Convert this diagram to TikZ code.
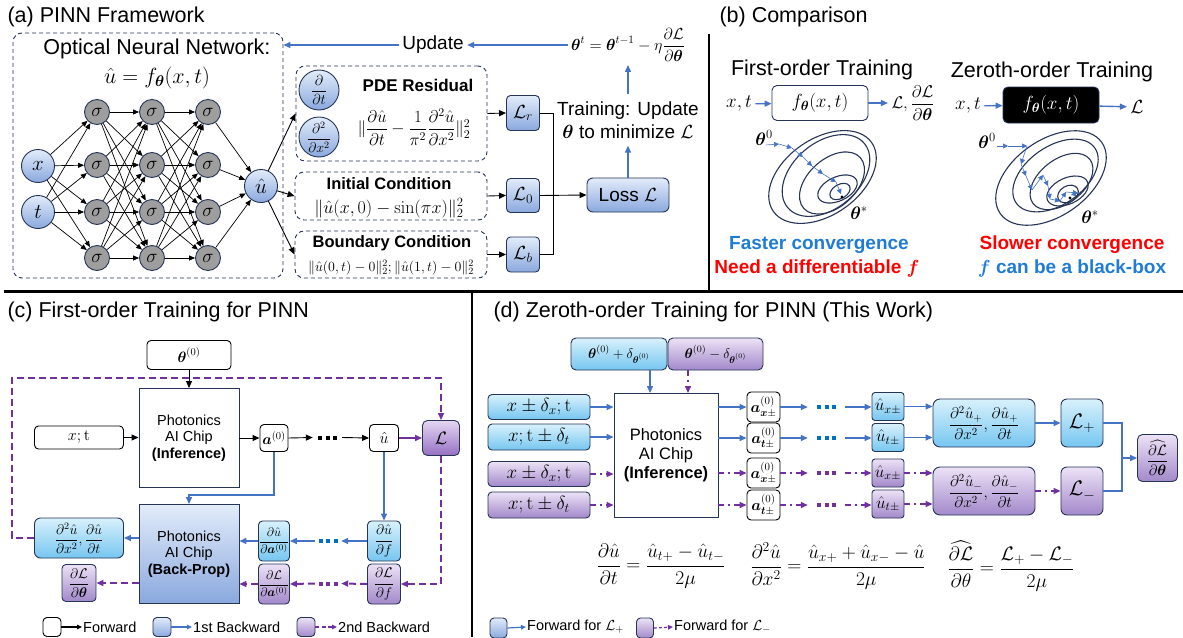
\RequirePackage{fix-cm}
\documentclass[tikz,border=0pt]{standalone}
\usepackage{amsmath,amssymb}
\usepackage[no-math]{fontspec}
\setmainfont{Liberation Sans}
\usetikzlibrary{arrows.meta,calc}
\definecolor{bdc}{RGB}{38,52,86}
\definecolor{sgray}{RGB}{158,158,158}
\definecolor{bltop}{RGB}{226,236,250}
\definecolor{blbot}{RGB}{138,168,222}
\definecolor{cytop}{RGB}{216,241,252}
\definecolor{cybot}{RGB}{118,198,240}
\definecolor{putop}{RGB}{236,226,246}
\definecolor{pubot}{RGB}{162,136,202}
\definecolor{ptop2}{RGB}{228,214,242}
\definecolor{pbot2}{RGB}{150,112,196}
\definecolor{ablue}{RGB}{68,114,196}
\definecolor{apur}{RGB}{112,48,160}
\definecolor{tblue}{RGB}{31,123,212}
\definecolor{tred}{RGB}{255,0,0}
\definecolor{dotb}{RGB}{0,112,192}
\newcommand{\fsz}[2]{\fontsize{#1}{#2}\selectfont}
\newcommand{\threedots}{\rule{4pt}{4pt}\hspace{3.5pt}\rule{4pt}{4pt}\hspace{3.5pt}\rule{4pt}{4pt}}
\begin{document}
\begin{tikzpicture}[x=1pt,y=-1pt,
  nn/.style={circle, draw=bdc, line width=0.9pt, inner sep=0pt},
  sig/.style={nn, fill=sgray, minimum size=25pt, font=\fsz{19}{22}},
  inp/.style={nn, top color=bltop, bottom color=blbot, minimum size=33pt, font=\fsz{21}{24}},
  dbox/.style={draw=bdc, line width=0.9pt, rounded corners=9pt, dash pattern=on 4pt off 3pt},
  gbox/.style={draw=bdc, line width=0.9pt, rounded corners=4pt, inner sep=0pt},
  blbox/.style={gbox, top color=bltop, bottom color=blbot},
  cybox/.style={gbox, top color=cytop, bottom color=cybot},
  pubox/.style={gbox, top color=putop, bottom color=pubot},
  wbox/.style={gbox, draw=black, fill=white},
  atip/.style={-{Triangle[length=7pt,width=6pt]}},
  narr/.style={-{Triangle[length=6pt,width=5pt]}, line width=0.7pt, black},
  karr/.style={atip, line width=0.9pt, black},
  barr/.style={atip, line width=1.4pt, ablue},
  bline/.style={line width=1.4pt, ablue},
  parr/.style={atip, line width=1.4pt, apur},
  pdash/.style={atip, line width=2pt, apur, dash pattern=on 7pt off 4pt},
  pdd/.style={atip, line width=1.4pt, apur, dash pattern=on 6pt off 4pt on 1.5pt off 4pt},
  cont/.style={draw=bdc, line width=1.1pt},
  sarr/.style={-{Triangle[length=5pt,width=5pt]}, ablue, line width=0.6pt},
  lgarr/.style={-{Triangle[length=5pt,width=4.5pt]}, line width=1.2pt},
  dots/.style={inner sep=0pt},
  txt/.style={inner sep=0pt},
]
\useasboundingbox (0,0) rectangle (1183,637);
% dividers
\draw[line width=3pt] (4,291) -- (1183,291);
\draw[line width=2.6pt] (709,34) -- (709,291);
\draw[line width=2.6pt] (472,291) -- (472,637);

% ================= (a)
\node[anchor=west, font=\fsz{21.5}{26}] (ta) at (4,17) {(a) PINN Framework};
\node[dbox, minimum width=270pt, minimum height=245pt] (onn) at (148,155.5) {};
\node[txt, font=\fsz{21.5}{26}] (onnt) at (157,49) {Optical Neural Network:};
\node[txt, font=\fsz{22}{26}] (onnf) at (157,78) {$\hat u=f_{\boldsymbol\theta}(x,t)$};
\node[inp] (xin) at (38,166) {$x$};
\node[inp] (tin) at (38,212) {$t$};
\foreach \c/\xx in {1/97,2/152,3/208}{
  \foreach \r/\yy in {1/112,2/165,3/212,4/258}{
    \node[sig] (s\c\r) at (\xx,\yy) {$\sigma$};
  }
}
\node[inp] (uhat) at (261,186) {$\hat u$};
\foreach \i in {1,...,4}{
  \draw[narr] (xin) -- (s1\i);
  \draw[narr] (tin) -- (s1\i);
  \draw[narr] (s3\i) -- (uhat);
  \foreach \j in {1,...,4}{
    \draw[narr] (s1\i) -- (s2\j);
    \draw[narr] (s2\i) -- (s3\j);
  }
}
% residual boxes
\node[dbox, minimum width=191pt, minimum height=95pt] (pde) at (391.5,113.5) {};
\node[dbox, minimum width=192pt, minimum height=48pt] (ic) at (391,196) {};
\node[dbox, minimum width=192pt, minimum height=47pt] (bc) at (391,254.5) {};
\draw[karr] (uhat) -- (pde.west);
\draw[karr] (uhat) -- (ic.west);
\draw[karr] (uhat) -- (bc.west);
\node[inp, minimum size=40pt, font=\fsz{14.5}{16}] (dtc) at (319,90) {$\dfrac{\partial}{\partial t}$};
\node[inp, minimum size=40pt, font=\fsz{14}{16}] (dxc) at (319,137) {$\dfrac{\partial^2}{\partial x^2}$};
\node[txt, font=\bfseries\fsz{17}{20}] (pdet) at (418,85) {PDE Residual};
\node[txt, font=\fsz{17}{20}] (pdef) at (414,127) {$\|\dfrac{\partial\hat u}{\partial t}-\dfrac{1}{\pi^2}\dfrac{\partial^2\hat u}{\partial x^2}\|_2^2$};
\node[txt, font=\bfseries\fsz{16.5}{20}] (ict) at (389,183.5) {Initial Condition};
\node[txt, font=\fsz{18}{21}] (icf) at (389,208) {$\|\hat u(x,0)-\sin(\pi x)\|_2^2$};
\node[txt, font=\bfseries\fsz{16.5}{20}] (bct) at (392,243.5) {Boundary Condition};
\node[txt, font=\fsz{14}{16}] (bcf) at (391,267.5) {$\|\hat u(0,t)-0\|_2^2;\|\hat u(1,t)-0\|_2^2$};
% losses
\node[blbox, minimum width=33pt, minimum height=35pt, font=\fsz{19}{22}] (Lr) at (523,113) {$\mathcal L_r$};
\node[blbox, minimum width=33pt, minimum height=34pt, font=\fsz{19}{22}] (L0) at (523,195.5) {$\mathcal L_0$};
\node[blbox, minimum width=33pt, minimum height=35pt, font=\fsz{19}{22}] (Lb) at (523,254.5) {$\mathcal L_b$};
\draw[karr] (pde.east) -- (Lr.west);
\draw[karr] (ic.east) -- (L0.west);
\draw[karr] (bc.east) -- (Lb.west);
\node[blbox, rounded corners=6pt, minimum width=82pt, minimum height=34pt, font=\fsz{19}{22}] (loss) at (628,195) {Loss $\mathcal L$};
\coordinate (mg1) at (553,195.5);
\draw[line width=0.9pt] (Lr.east) -| (mg1);
\draw[line width=0.9pt] (Lb.east) -| (mg1);
\draw[karr] (L0.east) -- (loss.west);
\node[font=\fsz{19}{23}, align=center, inner ysep=7pt] (trn) at (628,120) {Training: Update\\$\boldsymbol\theta$ to minimize $\mathcal L$};
\node[font=\fsz{16}{19}] (eq) at (628,45) {$\boldsymbol\theta^t=\boldsymbol\theta^{t-1}-\eta\dfrac{\partial\mathcal L}{\partial\boldsymbol\theta}$};
\node[font=\fsz{19}{22}] (upd) at (433,45) {Update};
\draw[barr] (loss.north) -- (trn.south);
\draw[barr] (trn.north) -- (eq.south);
\draw[barr] (eq.west) -- (upd.east);
\draw[barr] (upd.west) -- (upd.west -| onn.east);

% ================= (b)
\node[anchor=west, font=\fsz{21.5}{26}] (tb) at (716,17) {(b) Comparison};
\node[font=\fsz{21.5}{26}] (fot) at (822,70) {First-order Training};
\node[font=\fsz{21.5}{26}] (zot) at (1052,72) {Zeroth-order Training};
\node[font=\fsz{19}{22}] (xt1) at (739,104) {$x,t$};
\node[gbox, fill=white, rounded corners=5pt, minimum width=96pt, minimum height=35pt, font=\fsz{19}{22}] (f1) at (820,103) {$f_{\boldsymbol\theta}(x,t)$};
\node[font=\fsz{17}{20}] (l1) at (913,103) {$\mathcal L,\dfrac{\partial\mathcal L}{\partial\boldsymbol\theta}$};
\draw[barr] (xt1) -- (f1);
\draw[barr] (f1) -- (l1);
\node[font=\fsz{19}{22}] (xt2) at (968,106) {$x,t$};
\node[gbox, fill=black, rounded corners=5pt, minimum width=96pt, minimum height=36pt, text=white, font=\fsz{19}{22}] (f2) at (1051,105) {$f_{\boldsymbol\theta}(x,t)$};
\node[font=\fsz{19}{22}] (l2) at (1137,107) {$\mathcal L$};
\draw[barr] (xt2) -- (f2);
\draw[barr] (f2) -- (l2);
% contours left
\draw[cont] (822.5,177) circle[x radius=60, y radius=38, rotate=35];
\draw[cont] (826,175.5) circle[x radius=50, y radius=33, rotate=40];
\draw[cont] (832,183) circle[x radius=38, y radius=24, rotate=42];
\draw[cont] (837.5,189) circle[x radius=21, y radius=12, rotate=25];
\draw[cont] (840,191.5) circle[x radius=11, y radius=7, rotate=30];
\fill (842,197) circle[radius=1.6];
\node[font=\fsz{18}{20}] (th0l) at (764,138) {$\boldsymbol\theta^0$};
\node[font=\fsz{18}{20}] (thsl) at (859,213) {$\boldsymbol\theta^*$};
\draw[sarr] (766,145) -- (779,144);
\draw[sarr] (779,144) -- (792,148);
\draw[sarr] (792,148) -- (803,157);
\draw[sarr] (803,157) -- (812,166);
\draw[sarr] (812,166) -- (823,174);
\draw[sarr] (823,174) -- (836,182);
\draw[sarr] (836,182) -- (841,194);
% contours right
\draw[cont] (1051,178) circle[x radius=62, y radius=38, rotate=35];
\draw[cont] (1055.5,175.5) circle[x radius=48, y radius=29, rotate=35];
\draw[cont] (1061.5,181.5) circle[x radius=36, y radius=22, rotate=38];
\draw[cont] (1067.5,191) circle[x radius=22, y radius=13, rotate=25];
\draw[cont] (1068,194) circle[x radius=11, y radius=8, rotate=30];
\fill (1070,198) circle[radius=1.6];
\node[font=\fsz{18}{20}] (th0r) at (987,141) {$\boldsymbol\theta^0$};
\node[font=\fsz{18}{20}] (thsr) at (1090,217) {$\boldsymbol\theta^*$};
\draw[sarr] (997,146) -- (1008,146);
\draw[sarr] (1008,146) -- (1027,146);
\draw[sarr] (1027,146) -- (1021,164);
\draw[sarr] (1021,164) -- (1026,176);
\draw[sarr] (1026,176) -- (1032,190);
\draw[sarr] (1032,190) -- (1043,175);
\draw[sarr] (1043,175) -- (1048,186);
\draw[sarr] (1048,186) -- (1050,199);
\draw[sarr] (1050,199) -- (1060,201);
\draw[sarr] (1060,201) -- (1066,192);
\draw[sarr] (1066,192) -- (1078,193);
\draw[sarr] (1078,193) -- (1071,195);
\node[font=\bfseries\fsz{19}{22}, text=tblue] (fc) at (819,245) {Faster convergence};
\node[font=\bfseries\fsz{19}{22}, text=tred] (nd) at (817,268) {Need a differentiable {\boldmath$f$}};
\node[font=\bfseries\fsz{19}{22}, text=tred] (sc) at (1072,245) {Slower convergence};
\node[font=\bfseries\fsz{19}{22}, text=tblue] (bb) at (1072,268) {{\boldmath$f$} can be a black-box};

% ================= (c)
\node[anchor=west, font=\fsz{21.5}{26}] (tc) at (4,312) {(c) First-order Training for PINN};
\node[wbox, minimum width=84pt, minimum height=29pt, font=\fsz{15}{18}] (th0) at (189,355) {$\boldsymbol\theta^{(0)}$};
\node[draw=bdc, line width=0.9pt, fill=white, minimum width=100pt, minimum height=99pt, align=center, font=\fsz{14.5}{16.5}] (chip1) at (189,438) {Photonics\\AI Chip\\\textbf{(Inference)}};
\draw[karr] (th0) -- (chip1);
\node[wbox, minimum width=89pt, minimum height=23pt, font=\fsz{16}{18}] (xtc) at (79,437.5) {$x;\mathrm{t}$};
\draw[karr] (xtc) -- (chip1.west |- xtc);
\node[wbox, minimum width=28pt, minimum height=27pt, font=\fsz{15}{17}] (a0) at (274,438) {$\boldsymbol a^{(0)}$};
\draw[karr] (chip1.east |- a0) -- (a0.west);
\node[dots, minimum width=29pt] (dc) at (327.5,437.5) {\threedots};
\node[wbox, minimum width=29pt, minimum height=27pt, font=\fsz{16}{18}] (uh) at (384,438) {$\hat u$};
\draw[karr] (a0.east) -- (dc.west);
\draw[karr] (dc.east) -- (uh.west);
\node[gbox, top color=ptop2, bottom color=pbot2, rounded corners=5pt, minimum width=37pt, minimum height=35pt, font=\fsz{18}{20}] (Lc) at (441,438) {$\mathcal L$};
\draw[parr] (uh) -- (Lc);
\node[gbox, top color=bltop, bottom color=blbot, rounded corners=0pt, minimum width=100pt, minimum height=99pt, align=center, font=\fsz{14.5}{16.5}] (chip2) at (189,554) {Photonics\\AI Chip\\\textbf{(Back-Prop)}};
\node[cybox, rounded corners=6pt, minimum width=89pt, minimum height=40pt, font=\fsz{14}{16}] (d2u) at (79,538) {$\dfrac{\partial^2\hat u}{\partial x^2},\dfrac{\partial\hat u}{\partial t}$};
\node[pubox, minimum width=34pt, minimum height=37pt, font=\fsz{14}{16}] (dLth) at (79,583) {$\dfrac{\partial\mathcal L}{\partial\boldsymbol\theta}$};
\node[cybox, minimum width=31pt, minimum height=40pt, font=\fsz{12.5}{15}] (dua) at (274,541) {$\dfrac{\partial\hat u}{\partial\boldsymbol a^{(0)}}$};
\node[pubox, minimum width=31pt, minimum height=40pt, font=\fsz{12.5}{15}] (dLa) at (274,584) {$\dfrac{\partial\mathcal L}{\partial\boldsymbol a^{(0)}}$};
\node[cybox, minimum width=33pt, minimum height=40pt, font=\fsz{14}{16}] (duf) at (384,541) {$\dfrac{\partial\hat u}{\partial f}$};
\node[pubox, minimum width=33pt, minimum height=40pt, font=\fsz{14}{16}] (dLf) at (384,584) {$\dfrac{\partial\mathcal L}{\partial f}$};
\node[dots, minimum width=26pt, text=dotb] (dbc) at (328,541) {\threedots};
\node[dots, minimum width=26pt, text=apur] (dpc) at (328,583.5) {\threedots};
\draw[barr] (a0.south) -- ++(0,43) -| (chip2.north);
\draw[barr] (uh.south) -- (duf.north);
\draw[barr] (duf.west) -- (dbc.east);
\draw[barr] (dbc.west) -- (dua.east);
\draw[barr] (dua.west) -- (chip2.east |- dua.west);
\draw[barr] (chip2.west |- d2u.east) -- (d2u.east);
\draw[pdash] (d2u.west) -| (12,378) -| (Lc.north);
\draw[pdash] (Lc.south) |- (dLf.east);
\draw[pdash] (dLf.west) -- (dpc.east);
\draw[pdash] (dpc.west) -- (dLa.east);
\draw[pdash] (dLa.west) -- (chip2.east |- dLa.west);
\draw[pdash] (chip2.west |- dLth.east) -- (dLth.east);
% legend (c)
\node[wbox, minimum width=18pt, minimum height=19pt] (lc1) at (52,627) {};
\node[anchor=west, inner sep=1pt, font=\fsz{14.5}{17}] (lc1t) at (82,627) {Forward};
\draw[lgarr, black] (lc1.east) -- (lc1t.west);
\node[blbox, minimum width=18pt, minimum height=19pt] (lc2) at (162,627) {};
\node[anchor=west, inner sep=1pt, font=\fsz{14.5}{17}] (lc2t) at (192,627) {1st Backward};
\draw[lgarr, ablue] (lc2.east) -- (lc2t.west);
\node[pubox, minimum width=18pt, minimum height=19pt] (lc3) at (306,627) {};
\node[anchor=west, inner sep=1pt, font=\fsz{14.5}{17}] (lc3t) at (337,627) {2nd Backward};
\draw[lgarr, apur, dash pattern=on 4pt off 2.5pt] (lc3.east) -- (lc3t.west);

% ================= (d)
\node[anchor=west, font=\fsz{21.5}{26}] (td) at (490,312) {(d) Zeroth-order Training for PINN (This Work)};
\node[cybox, rounded corners=5pt, minimum width=96pt, minimum height=32pt, font=\fsz{14}{16}] (thp) at (619,354) {$\boldsymbol\theta^{(0)}+\delta_{\boldsymbol\theta^{(0)}}$};
\node[pubox, rounded corners=5pt, minimum width=95pt, minimum height=32pt, font=\fsz{14}{16}] (thm) at (715.5,354) {$\boldsymbol\theta^{(0)}-\delta_{\boldsymbol\theta^{(0)}}$};
\node[draw=bdc, line width=0.9pt, fill=white, minimum width=104pt, minimum height=124pt, align=center, font=\fsz{16.5}{19}] (chip3) at (666,455) {Photonics\\AI Chip\\\textbf{(Inference)}};
\coordinate (cbp) at (650,393);
\coordinate (cpp) at (688,393);
\draw[barr] (thp.south -| cbp) -- (cbp);
\draw[pdd] (thm.south -| cpp) -- (cpp);
\node[cybox, minimum width=102pt, minimum height=25pt, font=\fsz{19}{21}] (in1) at (539,407) {$x\pm\delta_x;\mathrm{t}$};
\node[cybox, minimum width=102pt, minimum height=26pt, font=\fsz{19}{21}] (in2) at (539,437) {$x;\mathrm{t}\pm\delta_t$};
\node[pubox, minimum width=102pt, minimum height=25pt, font=\fsz{19}{21}] (in3) at (539,474) {$x\pm\delta_x;\mathrm{t}$};
\node[pubox, minimum width=102pt, minimum height=26pt, font=\fsz{19}{21}] (in4) at (539,505) {$x;\mathrm{t}\pm\delta_t$};
\draw[barr] (in1.east) -- (chip3.west |- in1.east);
\draw[barr] (in2.east) -- (chip3.west |- in2.east);
\draw[pdd] (in3.east) -- (chip3.west |- in3.east);
\draw[pdd] (in4.east) -- (chip3.west |- in4.east);
\node[wbox, minimum width=33pt, minimum height=30pt, font=\fsz{15.5}{18}] (ax1) at (763.5,407) {$\boldsymbol a^{(0)}_{\boldsymbol x\pm}$};
\node[wbox, minimum width=33pt, minimum height=30pt, font=\fsz{15.5}{18}] (at1) at (763.5,438) {$\boldsymbol a^{(0)}_{\boldsymbol t\pm}$};
\node[wbox, minimum width=33pt, minimum height=30pt, font=\fsz{15.5}{18}] (ax2) at (763.5,473) {$\boldsymbol a^{(0)}_{\boldsymbol x\pm}$};
\node[wbox, minimum width=33pt, minimum height=30pt, font=\fsz{15.5}{18}] (at2) at (763.5,505) {$\boldsymbol a^{(0)}_{\boldsymbol t\pm}$};
\draw[barr] (chip3.east |- ax1.west) -- (ax1.west);
\draw[barr] (chip3.east |- at1.west) -- (at1.west);
\draw[pdd] (chip3.east |- ax2.west) -- (ax2.west);
\draw[pdd] (chip3.east |- at2.west) -- (at2.west);
\node[dots, minimum width=37pt, text=dotb] (dd1) at (826.5,407) {\threedots};
\node[dots, minimum width=37pt, text=dotb] (dd2) at (826.5,438) {\threedots};
\node[dots, minimum width=37pt, text=apur] (dd3) at (826.5,473) {\threedots};
\node[dots, minimum width=37pt, text=apur] (dd4) at (826.5,505) {\threedots};
\node[cybox, rounded corners=3pt, minimum width=32pt, minimum height=28pt, font=\fsz{17}{19}] (ux1) at (888,406.5) {$\hat u_{x\pm}$};
\node[cybox, rounded corners=3pt, minimum width=32pt, minimum height=28pt, font=\fsz{17}{19}] (ut1) at (888,437.5) {$\hat u_{t\pm}$};
\node[pubox, rounded corners=3pt, minimum width=32pt, minimum height=28pt, font=\fsz{17}{19}] (ux2) at (888,473) {$\hat u_{x\pm}$};
\node[pubox, rounded corners=3pt, minimum width=32pt, minimum height=28pt, font=\fsz{17}{19}] (ut2) at (888,504) {$\hat u_{t\pm}$};
\draw[barr] (ax1.east) -- (dd1.west);
\draw[barr] (dd1.east) -- (ux1.west |- dd1.east);
\draw[barr] (at1.east) -- (dd2.west);
\draw[barr] (dd2.east) -- (ut1.west |- dd2.east);
\draw[pdd] (ax2.east) -- (dd3.west);
\draw[pdd] (dd3.east) -- (ux2.west);
\draw[pdd] (at2.east) -- (dd4.west);
\draw[pdd] (dd4.east) -- (ut2.west |- dd4.east);
\node[cybox, rounded corners=7pt, minimum width=102pt, minimum height=48pt, font=\fsz{15.5}{18}] (dpl) at (984,423) {$\dfrac{\partial^2\hat u_+}{\partial x^2},\dfrac{\partial\hat u_+}{\partial t}$};
\node[pubox, rounded corners=7pt, minimum width=102pt, minimum height=48pt, font=\fsz{15.5}{18}] (dmi) at (984,491) {$\dfrac{\partial^2\hat u_-}{\partial x^2},\dfrac{\partial\hat u_-}{\partial t}$};
\draw[barr] (ux1.east) -- (dpl.west |- ux1.east);
\draw[barr] (ut1.east) -- (dpl.west |- ut1.east);
\draw[pdd] (ux2.east) -- (dmi.west |- ux2.east);
\draw[pdd] (ut2.east) -- (dmi.west |- ut2.east);
\node[cybox, rounded corners=6pt, minimum width=42pt, minimum height=48pt, font=\fsz{21}{23}] (Lp) at (1082,423) {$\mathcal L_+$};
\node[pubox, rounded corners=6pt, minimum width=42pt, minimum height=48pt, font=\fsz{21}{23}] (Lm) at (1082,491) {$\mathcal L_-$};
\draw[barr] (dpl) -- (Lp);
\draw[pdd] (dmi) -- (Lm);
\node[pubox, rounded corners=5pt, minimum width=40pt, minimum height=47pt, font=\fsz{15}{17}] (fin) at (1157.5,458) {$\dfrac{\widehat{\partial\mathcal L}}{\partial\boldsymbol\theta}$};
\coordinate (mg2) at (1122,458);
\draw[bline] (Lp.east) -| (mg2);
\draw[bline] (Lm.east) -| (mg2);
\draw[barr] (mg2) -- (fin.west);
% formulas
\node[font=\fsz{19.5}{22}] (fq1) at (661,566) {$\dfrac{\partial\hat u}{\partial t}=\dfrac{\hat u_{t+}-\hat u_{t-}}{2\mu}$};
\node[font=\fsz{19.5}{22}] (fq2) at (838,566) {$\dfrac{\partial^2\hat u}{\partial x^2}=\dfrac{\hat u_{x+}+\hat u_{x-}-\hat u}{2\mu}$};
\node[font=\fsz{19.5}{22}] (fq3) at (1011,566) {$\dfrac{\widehat{\partial\mathcal L}}{\partial\theta}=\dfrac{\mathcal L_+-\mathcal L_-}{2\mu}$};
% legend (d)
\node[blbox, minimum width=17pt, minimum height=20pt] (ld1) at (498.5,628) {};
\node[anchor=west, inner sep=1pt, font=\fsz{14.5}{17}] (ld1t) at (526,627) {Forward for $\mathcal L_+$};
\draw[lgarr, ablue] (ld1.east) -- (ld1t.west);
\node[pubox, minimum width=17pt, minimum height=20pt] (ld2) at (645,628) {};
\node[anchor=west, inner sep=1pt, font=\fsz{14.5}{17}] (ld2t) at (673,627) {Forward for $\mathcal L_-$};
\draw[lgarr, apur, dash pattern=on 3pt off 2pt] (ld2.east) -- (ld2t.west);
\end{tikzpicture}
\end{document}
